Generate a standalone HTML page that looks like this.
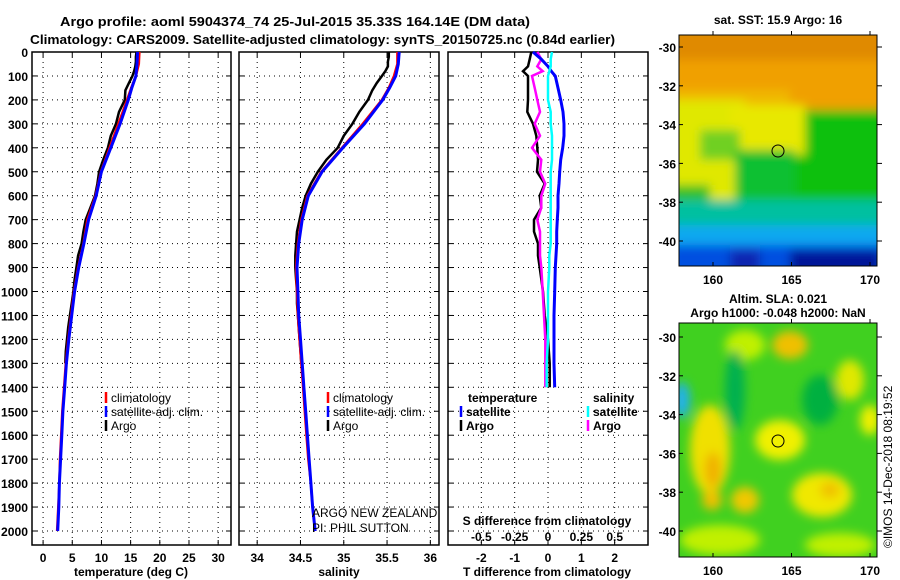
<!DOCTYPE html>
<html><head><meta charset="utf-8">
<style>
body{margin:0;background:#fff;}
svg{display:block;font-family:"Liberation Sans",sans-serif;font-weight:bold;}
text{font-weight:bold;}
</style></head>
<body>
<svg id="fig" width="900" height="580" viewBox="0 0 900 580">
<defs>
<filter id="bl" x="-10%" y="-10%" width="120%" height="120%"><feGaussianBlur stdDeviation="5"/></filter>
<clipPath id="cm1"><rect x="679" y="35" width="198" height="231"/></clipPath>
<clipPath id="cm2"><rect x="679" y="323" width="198" height="234"/></clipPath>
</defs>
<text x="60" y="26" font-size="13" textLength="470" lengthAdjust="spacingAndGlyphs">Argo profile: aoml 5904374_74 25-Jul-2015 35.33S 164.14E (DM data)</text>
<text x="30" y="44" font-size="13" textLength="585" lengthAdjust="spacingAndGlyphs">Climatology: CARS2009. Satellite-adjusted climatology: synTS_20150725.nc (0.84d earlier)</text>

<!-- SST map -->
<g>
<text x="778" y="24" text-anchor="middle" font-size="12">sat. SST: 15.9 Argo: 16</text>
<g clip-path="url(#cm1)">
<rect x="670" y="25" width="220" height="250" fill="#00c8b0"/>
<g filter="url(#bl)">
<rect x="670" y="25" width="220" height="95" fill="#f0a000"/>
<rect x="670" y="25" width="220" height="35" fill="#e08a00"/>
<rect x="670" y="90" width="120" height="30" fill="#f0b800"/>
<rect x="760" y="110" width="130" height="100" fill="#10c010"/>
<rect x="670" y="100" width="75" height="105" fill="#e0e800"/>
<rect x="730" y="105" width="75" height="50" fill="#e8e800"/>
<rect x="700" y="130" width="40" height="30" fill="#70d020"/>
<rect x="735" y="150" width="60" height="55" fill="#10c030"/>
<rect x="670" y="185" width="40" height="30" fill="#30c020"/>
<rect x="670" y="200" width="220" height="35" fill="#00c0a0"/>
<rect x="670" y="225" width="220" height="25" fill="#10a8f0"/>
<rect x="670" y="245" width="220" height="30" fill="#0050e0"/>
<rect x="790" y="250" width="90" height="25" fill="#001898"/>
<rect x="730" y="250" width="30" height="25" fill="#0828b0"/>
</g>
</g>
<rect x="679" y="35" width="198" height="231" fill="none" stroke="#000"/>
<circle cx="778" cy="151" r="6" fill="none" stroke="#000"/>
<g id="sstAxes"></g>
</g>

<!-- SLA map -->
<g>
<text x="778" y="303" text-anchor="middle" font-size="12">Altim. SLA: 0.021</text>
<text x="778" y="317" text-anchor="middle" font-size="12">Argo h1000: -0.048 h2000: NaN</text>
<g clip-path="url(#cm2)">
<rect x="670" y="315" width="220" height="250" fill="#40d020"/>
<g filter="url(#bl)">
<ellipse cx="790" cy="345" rx="18" ry="14" fill="#f0c000"/>
<ellipse cx="745" cy="345" rx="20" ry="15" fill="#c0f000"/>
<ellipse cx="850" cy="380" rx="14" ry="20" fill="#e0e800"/>
<ellipse cx="780" cy="440" rx="25" ry="20" fill="#f0f000"/>
<ellipse cx="710" cy="450" rx="20" ry="45" fill="#f0e000"/>
<ellipse cx="713" cy="470" rx="8" ry="18" fill="#f0b000"/>
<ellipse cx="822" cy="495" rx="30" ry="22" fill="#f0e800"/>
<ellipse cx="830" cy="490" rx="10" ry="8" fill="#f0c000"/>
<ellipse cx="745" cy="500" rx="14" ry="13" fill="#f0c800"/>
<ellipse cx="712" cy="500" rx="10" ry="10" fill="#f0c000"/>
<ellipse cx="720" cy="540" rx="40" ry="15" fill="#c0f000"/>
<ellipse cx="840" cy="545" rx="35" ry="12" fill="#c0f000"/>
<ellipse cx="735" cy="390" rx="10" ry="40" fill="#00b050"/>
<ellipse cx="820" cy="400" rx="18" ry="25" fill="#00b040"/>
<ellipse cx="682" cy="400" rx="8" ry="18" fill="#20b0f0"/>
<ellipse cx="870" cy="420" rx="10" ry="15" fill="#f0f000"/>
</g>
</g>
<rect x="679" y="323" width="198" height="234" fill="none" stroke="#000"/>
<circle cx="778" cy="441" r="6" fill="none" stroke="#000"/>
<g id="slaAxes"></g>
</g>
<text transform="translate(892,548) rotate(-90)" font-size="12" style="font-weight:normal">©IMOS 14-Dec-2018 08:19:52</text>

<g id="plots"></g>
</svg>
<script>
// ---- profile data ----
const depthClim = [0,50,100,150,200,300,400,500,600,700,800,900,1000,1100,1200,1300,1400,1500,1600,1700,1800,1900,2000];
const tempClim  = [16.5,16.4,15.9,15.1,14.4,12.9,11.4,9.9,9.0,7.6,6.9,6.0,5.3,4.8,4.3,3.9,3.6,3.3,3.1,2.9,2.8,2.6,2.4];
const tempSat   = [16.2,16.1,15.9,15.2,14.6,13.2,11.6,10.0,9.1,7.8,7.0,6.1,5.4,4.9,4.4,4.0,3.7,3.4,3.2,3.0,2.8,2.7,2.5];
const depthArgo = [0,20,40,60,80,100,130,160,200,250,300,350,400,450,500,550,600,650,700,750,800,850,900,950,1000,1050,1100,1150,1200,1250,1300];
const tempArgo  = [16.0,15.9,15.9,15.8,15.6,15.3,14.7,14.1,14.0,13.0,12.5,11.6,11.1,10.3,9.6,9.3,8.9,8.1,7.3,6.9,6.6,6.0,5.7,5.4,5.2,4.9,4.6,4.3,4.1,3.9,3.8];
const salClim   = [35.62,35.62,35.58,35.52,35.44,35.22,34.98,34.74,34.58,34.51,34.47,34.45,34.46,34.47,34.49,34.51,34.53,34.55,34.57,34.59,34.62,34.64,34.67];
const salSat    = [35.64,35.63,35.60,35.53,35.45,35.24,34.99,34.75,34.59,34.52,34.48,34.46,34.47,34.48,34.50,34.52,34.54,34.56,34.58,34.60,34.62,34.64,34.67];
const salArgo   = [35.52,35.52,35.51,35.51,35.48,35.44,35.38,35.33,35.28,35.18,35.10,35.00,34.93,34.80,34.70,34.62,34.56,34.52,34.49,34.46,34.45,34.44,34.44,34.45,34.46,34.46,34.47,34.48,34.49,34.50,34.51];
// differences from climatology
const depthDiff = [0,30,60,80,100,150,200,250,300,350,400,450,500,550,600,650,700,750,800,850,900,1000,1100,1200,1300,1400];
const tDiffSat  = [-0.45,-0.2,0.0,0.1,0.22,0.3,0.38,0.45,0.48,0.48,0.44,0.38,0.35,0.33,0.30,0.30,0.28,0.26,0.26,0.24,0.22,0.20,0.18,0.18,0.18,0.2];
const tDiffArgo = [-0.5,-0.55,-0.6,-0.75,-0.6,-0.6,-0.6,-0.62,-0.45,-0.35,-0.32,-0.30,-0.33,-0.1,-0.25,-0.20,-0.42,-0.42,-0.30,-0.30,-0.25,-0.15,-0.1,0.0,0.05,0.05];
const sDiffSat  = [0.03,0.02,0.02,0.01,0.0,0.0,0.0,0.02,0.02,0.03,0.03,0.03,0.02,0.02,0.02,0.02,0.02,0.02,0.02,0.01,0.01,0.0,0.0,0.0,-0.01,-0.01];
const sDiffArgo = [-0.08,-0.05,-0.08,-0.04,-0.12,-0.1,-0.08,-0.06,-0.1,-0.06,-0.12,-0.05,-0.06,-0.02,-0.05,-0.05,-0.08,-0.06,-0.06,-0.06,-0.05,-0.04,-0.03,-0.02,-0.02,-0.02];
// tick labels
const depthTicks = [0,100,200,300,400,500,600,700,800,900,1000,1100,1200,1300,1400,1500,1600,1700,1800,1900,2000];
const tempTicks = [0,5,10,15,20,25,30];
const salTicks = [34,34.5,35,35.5,36];
const tDiffTicks = [-2,-1,0,1,2];
const sDiffTicks = [-0.5,-0.25,0,0.25,0.5];
const latTicks = [-30,-32,-34,-36,-38,-40];
const lonTicks = [160,165,170];

const NS='http://www.w3.org/2000/svg';
const root=document.getElementById('plots');
function el(tag,attrs,parent){const e=document.createElementNS(NS,tag);for(const k in attrs)e.setAttribute(k,attrs[k]);(parent||root).appendChild(e);return e;}
const Y0=52, YTOP=52, YBOT=545;
const yD = d => Y0 + d*0.2395;
function txt(x,y,s,size,anchor,name,parent){const t=el('text',{x:x,y:y,'font-size':size,'text-anchor':anchor||'middle'},parent);t.textContent=s;

return t;}

function panel(x0,x1,xmin,xmax,xticks,fmt,name,yLabels){
  const g=el('g',{});
  
  
  const xs=v=>x0+(v-xmin)/(xmax-xmin)*(x1-x0);
  depthTicks.forEach(d=>{const l=el('line',{x1:x0,x2:x1,y1:yD(d),y2:yD(d),stroke:'#000','stroke-dasharray':'1,4'},g);
    
    el('line',{x1:x0,x2:x0+5,y1:yD(d),y2:yD(d),stroke:'#000'},g);el('line',{x1:x1-5,x2:x1,y1:yD(d),y2:yD(d),stroke:'#000'},g);
    if(yLabels){const t=txt(x0-4,yD(d)+5,String(d),12,'end','depth-tick-label',g); if(d>=1000){t.setAttribute('textLength','27');t.setAttribute('lengthAdjust','spacingAndGlyphs');}}});
  xticks.forEach(v=>{const X=xs(v);const l=el('line',{x1:X,x2:X,y1:YTOP,y2:YBOT,stroke:'#000','stroke-dasharray':'1,4'},g);
    
    el('line',{x1:X,x2:X,y1:YTOP,y2:YTOP+5,stroke:'#000'},g);el('line',{x1:X,x2:X,y1:YBOT-5,y2:YBOT,stroke:'#000'},g);
    if(fmt) txt(X,YBOT+17,fmt(v),12,'middle','x-tick-label',g);});
  const f=el('rect',{x:x0,y:YTOP,width:x1-x0,height:YBOT-YTOP,fill:'none',stroke:'#000','stroke-width':1.5},g);
  
  return {g,xs};
}
function line(p,depths,vals,color,w,name){
  const pts=depths.map((d,i)=>p.xs(vals[i]).toFixed(1)+','+yD(d).toFixed(1)).join(' ');
  const l=el('polyline',{points:pts,fill:'none',stroke:color,'stroke-width':w},p.g);
  
  
}
function legend(g,x,y,items,bold){items.forEach((it,i)=>{const yy=y+i*14;
  el('line',{x1:x,x2:x,y1:yy-10,y2:yy+1,stroke:it[1],'stroke-width':2.5},g);
  const t=txt(x+5,yy,it[0],12,'start','legend-entry',g);if(!bold)t.style.fontWeight='normal';});}

// Panel 1 temperature
const p1=panel(32,231,-1.9,32.2,tempTicks,v=>String(v),'temperature-panel',true);
line(p1,depthArgo,tempArgo,'#000',2.5,'temp-argo-line');
line(p1,depthClim,tempClim,'#f00',2.5,'temp-climatology-line');
line(p1,depthClim,tempSat,'#00f',3,'temp-satellite-line');
legend(p1.g,106,402,[['climatology','#f00'],['satellite-adj. clim.','#00f'],['Argo','#000']]);
txt(131,576,'temperature (deg C)',12,'middle','temperature-axis-title',p1.g);

// Panel 2 salinity
const p2=panel(239,439,33.79,36.1,salTicks,v=>String(v),'salinity-panel',false);
line(p2,depthArgo,salArgo,'#000',2.5,'sal-argo-line');
line(p2,depthClim,salClim,'#f00',2.5,'sal-climatology-line');
line(p2,depthClim,salSat,'#00f',3,'sal-satellite-line');
legend(p2.g,328,402,[['climatology','#f00'],['satellite-adj. clim.','#00f'],['Argo','#000']]);
txt(339,576,'salinity',12,'middle','salinity-axis-title',p2.g);
const a1=txt(312,517,'ARGO NEW ZEALAND',12,'start','data-credit-1',p2.g);a1.style.fontWeight='normal';
const a2=txt(312,532,'PI: PHIL SUTTON',12,'start','data-credit-2',p2.g);a2.style.fontWeight='normal';

// Panel 3 differences
const p3=panel(448,648,-3.0,3.0,tDiffTicks,v=>String(v),'difference-panel',false);
const sx=v=>v*4;
line(p3,depthDiff,tDiffArgo,'#000',2.5,'tdiff-argo-line');
line(p3,depthDiff,sDiffArgo.map(sx),'#f0f',2.5,'sdiff-argo-line');
line(p3,depthDiff,tDiffSat,'#00f',3,'tdiff-satellite-line');
line(p3,depthDiff,sDiffSat.map(sx),'#0ff',2.5,'sdiff-satellite-line');
sDiffTicks.forEach(v=>txt(p3.xs(v*4),541,String(v),12,'middle','sdiff-tick-label',p3.g));
txt(547,525,'S difference from climatology',12,'middle','sdiff-axis-title',p3.g);
txt(547,576,'T difference from climatology',12,'middle','tdiff-axis-title',p3.g);
txt(468,402,'temperature',12,'start','legend-heading-temperature',p3.g);
txt(593,402,'salinity',12,'start','legend-heading-salinity',p3.g);
legend(p3.g,461,416,[['satellite','#00f'],['Argo','#000']],true);
legend(p3.g,588,416,[['satellite','#0ff'],['Argo','#f0f']],true);

// map axes
function mapAxes(id,top,bot,yLat30){
  const g=document.getElementById(id);
  const ly=v=>yLat30+(-30-v)*19.4;
  const lx=v=>713+(v-160)*15.7;
  latTicks.forEach(v=>{el('line',{x1:877,x2:882,y1:ly(v),y2:ly(v),stroke:'#000'},g);
    el('line',{x1:679,x2:683,y1:ly(v),y2:ly(v),stroke:'#000'},g);
    txt(676,ly(v)+5,String(v),12,'end','lat-tick-label',g);});
  lonTicks.forEach(v=>{el('line',{x1:lx(v),x2:lx(v),y1:top-4,y2:top,stroke:'#000'},g);
    el('line',{x1:lx(v),x2:lx(v),y1:bot,y2:bot-4,stroke:'#000'},g);
    txt(lx(v),bot+18,String(v),12,'middle','lon-tick-label',g);});
}
mapAxes('sstAxes',35,266,47);
mapAxes('slaAxes',323,557,337);
</script>
</body></html>
